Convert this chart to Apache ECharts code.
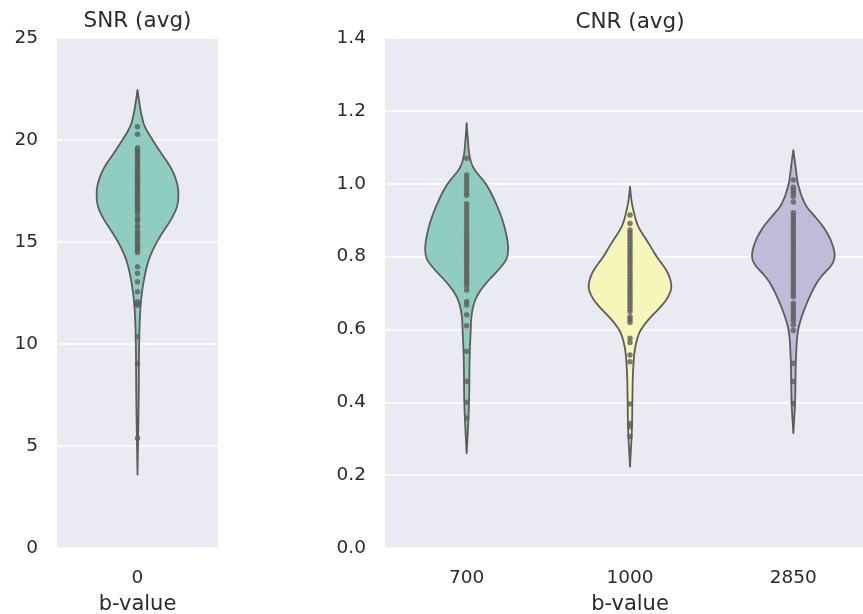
<!DOCTYPE html>
<html>
<head>
<meta charset="utf-8">
<title>SNR / CNR by b-value</title>
<script src="https://cdn.jsdelivr.net/npm/echarts@6/dist/echarts.min.js"></script>
<style>
  html, body { margin: 0; padding: 0; background: #fff; }
  #chart { width: 863px; height: 614px; }
</style>
</head>
<body>
<div id="chart"></div>
<script>
// categories (b-values)
const snrCategories = ['0'];
const cnrCategories = ['700', '1000', '2850'];

// violin outlines: value level, relative half width (1 = widest)
const snrLevels = [22.45, 21.9, 21.3, 20.65, 20.0, 19.38, 18.73, 18.07, 17.42, 16.76, 16.1, 15.45, 14.8, 14.15, 13.17, 12.19, 11.2, 9.9, 7.45, 3.6];
const snrDensity = [0, 0.04, 0.09, 0.18, 0.37, 0.57, 0.79, 0.94, 1.0, 0.97, 0.82, 0.61, 0.42, 0.28, 0.16, 0.09, 0.057, 0.04, 0.03, 0];

const cnr700Levels = [1.166, 1.12, 1.07, 1.042, 1.0, 0.96, 0.914, 0.868, 0.823, 0.795, 0.768, 0.74, 0.713, 0.685, 0.64, 0.597, 0.53, 0.396, 0.33, 0.26];
const cnr700Density = [0, 0.03, 0.08, 0.17, 0.46, 0.65, 0.82, 0.94, 1.0, 0.97, 0.8, 0.57, 0.37, 0.22, 0.12, 0.098, 0.073, 0.056, 0.032, 0];

const cnr1000Levels = [0.992, 0.95, 0.928, 0.882, 0.84, 0.797, 0.76, 0.717, 0.69, 0.662, 0.63, 0.597, 0.553, 0.498, 0.395, 0.333, 0.223];
const cnr1000Density = [0, 0.04, 0.08, 0.2, 0.43, 0.66, 0.89, 1.0, 0.92, 0.74, 0.47, 0.25, 0.13, 0.08, 0.056, 0.048, 0];

const cnr2850Levels = [1.092, 1.05, 1.029, 0.999, 0.937, 0.91, 0.882, 0.84, 0.8, 0.77, 0.755, 0.736, 0.681, 0.626, 0.597, 0.525, 0.397, 0.315];
const cnr2850Density = [0, 0.05, 0.072, 0.113, 0.32, 0.52, 0.72, 0.92, 1.0, 0.88, 0.75, 0.61, 0.36, 0.176, 0.113, 0.065, 0.041, 0];

// observations (inner points)
const snrPoints = [20.65, 20.28, 19.62, 19.51, 19.43, 19.32, 19.2, 19.11, 19.0, 18.88, 18.8, 18.69, 18.58, 18.5, 18.39, 18.3, 18.18, 18.09, 17.98, 17.9, 17.8, 17.69, 17.6, 17.5, 17.41, 17.3, 17.2, 17.12, 17.0, 16.9, 16.82, 16.7, 16.6, 16.51, 16.4, 16.2, 16.1, 16.0, 15.8, 15.7, 15.52, 15.41, 15.3, 15.2, 15.02, 14.9, 14.8, 14.7, 14.6, 14.48, 13.79, 13.47, 13.05, 12.56, 12.07, 11.96, 11.9, 10.36, 9.05, 5.38];
const cnr700Points = [1.07, 1.024, 1.015, 1.005, 0.995, 0.985, 0.975, 0.968, 0.945, 0.935, 0.925, 0.915, 0.905, 0.895, 0.885, 0.875, 0.866, 0.857, 0.848, 0.84, 0.832, 0.824, 0.816, 0.808, 0.8, 0.792, 0.784, 0.776, 0.768, 0.76, 0.752, 0.744, 0.736, 0.728, 0.72, 0.708, 0.676, 0.667, 0.64, 0.61, 0.54, 0.458, 0.4, 0.357];
const cnr1000Points = [0.914, 0.891, 0.873, 0.865, 0.857, 0.849, 0.841, 0.833, 0.825, 0.817, 0.809, 0.801, 0.793, 0.785, 0.777, 0.769, 0.761, 0.753, 0.745, 0.737, 0.729, 0.721, 0.713, 0.705, 0.697, 0.689, 0.681, 0.673, 0.665, 0.657, 0.649, 0.635, 0.627, 0.619, 0.576, 0.564, 0.53, 0.511, 0.395, 0.342, 0.333, 0.306];
const cnr2850Points = [1.01, 0.99, 0.982, 0.974, 0.965, 0.95, 0.92, 0.912, 0.904, 0.896, 0.888, 0.88, 0.872, 0.864, 0.856, 0.848, 0.84, 0.832, 0.824, 0.816, 0.808, 0.8, 0.792, 0.784, 0.776, 0.768, 0.76, 0.752, 0.744, 0.736, 0.728, 0.72, 0.712, 0.704, 0.696, 0.69, 0.672, 0.664, 0.656, 0.648, 0.64, 0.632, 0.624, 0.612, 0.597, 0.507, 0.457, 0.397];

const violinColors = ['#90cdc1', '#f6f5ba', '#bebcd9'];
const lineGray = '#5c5c5c';
const textColor = '#2b2b2b';
const fontFamily = '"DejaVu Sans", sans-serif';

const snrProfiles = [{ levels: snrLevels, density: snrDensity }];
const cnrProfiles = [
  { levels: cnr700Levels, density: cnr700Density },
  { levels: cnr1000Levels, density: cnr1000Density },
  { levels: cnr2850Levels, density: cnr2850Density }
];

// half width of the widest part, as a share of one category band
const MAX_HALF = 0.254;

// monotone cubic through the outline readings, only used to draw a smooth edge
const monotone = (xs, ys) => {
  const n = xs.length;
  const d = [];
  const m = new Array(n);
  for (let i = 0; i < n - 1; i++) d.push((ys[i + 1] - ys[i]) / (xs[i + 1] - xs[i]));
  m[0] = d[0];
  m[n - 1] = d[n - 2];
  for (let i = 1; i < n - 1; i++) m[i] = d[i - 1] * d[i] <= 0 ? 0 : (d[i - 1] + d[i]) / 2;
  for (let i = 0; i < n - 1; i++) {
    if (d[i] === 0) { m[i] = 0; m[i + 1] = 0; continue; }
    const a = m[i] / d[i];
    const b = m[i + 1] / d[i];
    const s = a * a + b * b;
    if (s > 9) {
      const t = 3 / Math.sqrt(s);
      m[i] = t * a * d[i];
      m[i + 1] = t * b * d[i];
    }
  }
  return x => {
    let i = 0;
    while (i < n - 2 && x > xs[i + 1]) i++;
    const h = xs[i + 1] - xs[i];
    const t = (x - xs[i]) / h;
    const t2 = t * t, t3 = t2 * t;
    return (2 * t3 - 3 * t2 + 1) * ys[i] + (t3 - 2 * t2 + t) * h * m[i] +
      (-2 * t3 + 3 * t2) * ys[i + 1] + (t3 - t2) * h * m[i + 1];
  };
};

// gaussian blur of the sampled half widths (1 sample per pixel) to round off corners
const soften = (arr, sigma) => {
  const r = Math.ceil(sigma * 3);
  const kern = [];
  for (let j = -r; j <= r; j++) kern.push(Math.exp(-j * j / (2 * sigma * sigma)));
  return arr.map((_, i) => {
    let s = 0, ws = 0;
    for (let j = -r; j <= r; j++) {
      const k = i + j;
      const val = k < 0 || k >= arr.length ? 0 : arr[k];
      s += val * kern[j + r];
      ws += kern[j + r];
    }
    return s / ws;
  });
};

const makeViolin = (profiles, colors) => (params, api) => {
  const idx = api.value(0);
  const prof = profiles[idx];
  const xs = prof.levels.slice().reverse();
  const ys = prof.density.slice().reverse();
  const edge = monotone(xs, ys);
  const band = api.size([1, 0])[0];
  const lo = xs[0], hi = xs[xs.length - 1];
  const top = api.coord([idx, hi]);
  const bottom = api.coord([idx, lo]);
  const steps = Math.max(2, Math.round(bottom[1] - top[1]));
  const vals = [];
  const widths = [];
  for (let k = 0; k <= steps; k++) {
    const v = hi - (hi - lo) * k / steps;
    vals.push(v);
    widths.push(Math.max(0, edge(v)) * MAX_HALF * band);
  }
  const soft = soften(widths, 2.5);
  soft[0] = 0;
  soft[soft.length - 1] = 0;
  const right = [];
  const left = [];
  for (let k = 0; k <= steps; k++) {
    const c = api.coord([idx, vals[k]]);
    right.push([c[0] + soft[k], c[1]]);
    left.push([c[0] - soft[k], c[1]]);
  }
  const points = right.concat(left.reverse().slice(1, -1));
  return {
    type: 'polygon',
    shape: { points: points },
    style: { fill: colors[idx], stroke: lineGray, lineWidth: 1.8, lineJoin: 'round' }
  };
};

const toPairs = (idx, arr) => arr.map(v => [idx, v]);

const axisText = { color: textColor, fontSize: 18.5, fontFamily: fontFamily };
const nameText = { color: textColor, fontSize: 21, fontFamily: fontFamily };

const chart = echarts.init(document.getElementById('chart'));

const option = {
  animation: false,
  graphic: [
    { type: 'text', x: 137.5, y: 21, style: { text: 'SNR (avg)', align: 'center', verticalAlign: 'middle', fill: textColor, fontSize: 21.5, fontFamily: fontFamily } },
    { type: 'text', x: 630, y: 22, style: { text: 'CNR (avg)', align: 'center', verticalAlign: 'middle', fill: textColor, fontSize: 21.5, fontFamily: fontFamily } }
  ],
  grid: [
    { left: 57, top: 38, width: 161, height: 510, show: true, backgroundColor: '#eaeaf2', borderWidth: 0, containLabel: false, outerBoundsMode: 'none' },
    { left: 385, top: 38, width: 490, height: 510, show: true, backgroundColor: '#eaeaf2', borderWidth: 0, containLabel: false, outerBoundsMode: 'none' }
  ],
  xAxis: [
    {
      type: 'category', gridIndex: 0, data: snrCategories,
      axisLine: { show: false }, axisTick: { show: false }, splitLine: { show: false },
      axisLabel: Object.assign({ margin: 21 }, axisText),
      name: 'b-value', nameLocation: 'middle', nameGap: 46,
      nameTextStyle: nameText
    },
    {
      type: 'category', gridIndex: 1, data: cnrCategories,
      axisLine: { show: false }, axisTick: { show: false }, splitLine: { show: false },
      axisLabel: Object.assign({ margin: 21 }, axisText),
      name: 'b-value', nameLocation: 'middle', nameGap: 46,
      nameTextStyle: nameText
    }
  ],
  yAxis: [
    {
      type: 'value', gridIndex: 0, min: 0, max: 25, interval: 5,
      axisLine: { show: false }, axisTick: { show: false },
      splitLine: { show: true, lineStyle: { color: '#ffffff', width: 1.6 } },
      axisLabel: Object.assign({ margin: 19 }, axisText)
    },
    {
      type: 'value', gridIndex: 1, min: 0, max: 1.4, interval: 0.2,
      axisLine: { show: false }, axisTick: { show: false },
      splitLine: { show: true, lineStyle: { color: '#ffffff', width: 1.6 } },
      axisLabel: Object.assign({ margin: 19, formatter: v => v.toFixed(1) }, axisText)
    }
  ],
  series: [
    {
      type: 'custom', xAxisIndex: 0, yAxisIndex: 0,
      renderItem: makeViolin(snrProfiles, violinColors),
      data: [[0]], z: 2, silent: true
    },
    {
      type: 'custom', xAxisIndex: 1, yAxisIndex: 1,
      renderItem: makeViolin(cnrProfiles, violinColors),
      data: [[0], [1], [2]], z: 2, silent: true
    },
    {
      type: 'scatter', xAxisIndex: 0, yAxisIndex: 0, symbolSize: 5.5, z: 3,
      itemStyle: { color: '#5e5e5e' },
      data: toPairs(0, snrPoints)
    },
    {
      type: 'scatter', xAxisIndex: 1, yAxisIndex: 1, symbolSize: 5.5, z: 3,
      itemStyle: { color: '#5e5e5e' },
      data: toPairs(0, cnr700Points).concat(toPairs(1, cnr1000Points), toPairs(2, cnr2850Points))
    }
  ]
};

chart.setOption(option);
</script>
</body>
</html>
